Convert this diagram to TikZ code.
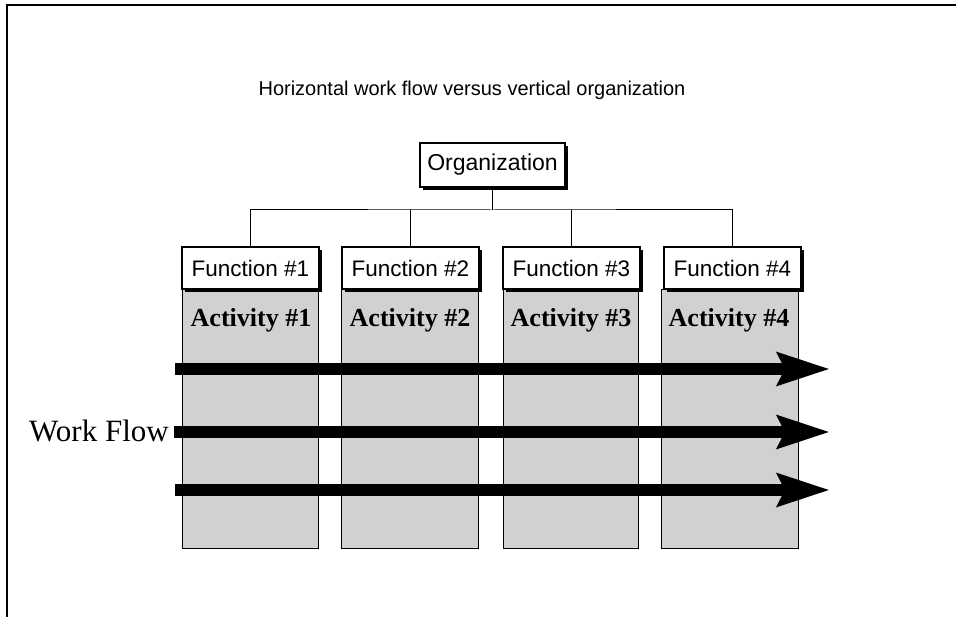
\documentclass[tikz,border=0pt]{standalone}
\usepackage{fontspec}
\setmainfont{Liberation Serif}
\setsansfont{Liberation Sans}
\usetikzlibrary{arrows.meta,shadows}
\begin{document}
\begin{tikzpicture}[x=1pt,y=-1pt,
  box/.style={draw,line width=1.1pt,fill=white,inner sep=0pt,font=\sffamily,
    drop shadow={shadow xshift=3pt,shadow yshift=-3pt,fill=black,opacity=1}},
  fbox/.style={box,minimum width=137pt,minimum height=42pt,font=\fontsize{22.5}{26}\sffamily},
  colbox/.style={draw,line width=0.9pt,fill=black!18,inner sep=0pt,anchor=north west,minimum height=259pt},
  actlabel/.style={font=\fontsize{26}{29}\bfseries\rmfamily},
  conn/.style={line width=1pt},
  flow/.style={line width=12pt,-{Stealth[length=52pt,width=32pt,inset=7pt]}}]
\useasboundingbox (0,0) rectangle (956,617);
% frame
\draw[line width=1.5pt] (956,5) -- (7,5) -- (7,617);
% title
\node[font=\fontsize{20}{24}\sffamily] (title) at (472,90) {Horizontal work flow versus vertical organization};
% columns
\node[colbox,minimum width=136pt] (c1) at (182,289) {};
\node[colbox,minimum width=137pt] (c2) at (341,289) {};
\node[colbox,minimum width=135pt] (c3) at (503,289) {};
\node[colbox,minimum width=137pt] (c4) at (661,289) {};
% organization
\node[box,minimum width=145pt,minimum height=44pt,font=\fontsize{23}{27}\sffamily] (org) at (492.5,165) {Organization};
% functions
\node[fbox] (f1) at (250.5,268) {Function \#1};
\node[fbox] (f2) at (410.5,268) {Function \#2};
\node[fbox] (f3) at (571.5,268) {Function \#3};
\node[fbox] (f4) at (732.5,268) {Function \#4};
% tree connectors
\coordinate (bus) at (492.5,210);
\draw[conn] (org.south) -- (bus);
\draw[conn] (f1.north) |- (bus) -| (f4.north);
\draw[conn] (f2.north) -- (f2.north |- bus);
\draw[conn] (f3.north) -- (f3.north |- bus);
% activity labels
\node[actlabel] (a1) at (251,320) {Activity \#1};
\node[actlabel] (a2) at (410,320) {Activity \#2};
\node[actlabel] (a3) at (571,320) {Activity \#3};
\node[actlabel] (a4) at (729,320) {Activity \#4};
% work flow
\node[font=\fontsize{31}{34}\rmfamily,anchor=east,inner sep=0pt] (wf) at (169,431) {Work Flow};
\coordinate (s1) at (175,369);
\coordinate (e1) at (830,369);
\coordinate (e2) at (830,432);
\coordinate (s3) at (175,490);
\coordinate (e3) at (830,490);
\draw[flow] (s1) -- (e1);
\draw[flow] (wf.east) ++(5,1) -- (e2);
\draw[flow] (s3) -- (e3);
\end{tikzpicture}
\end{document}
